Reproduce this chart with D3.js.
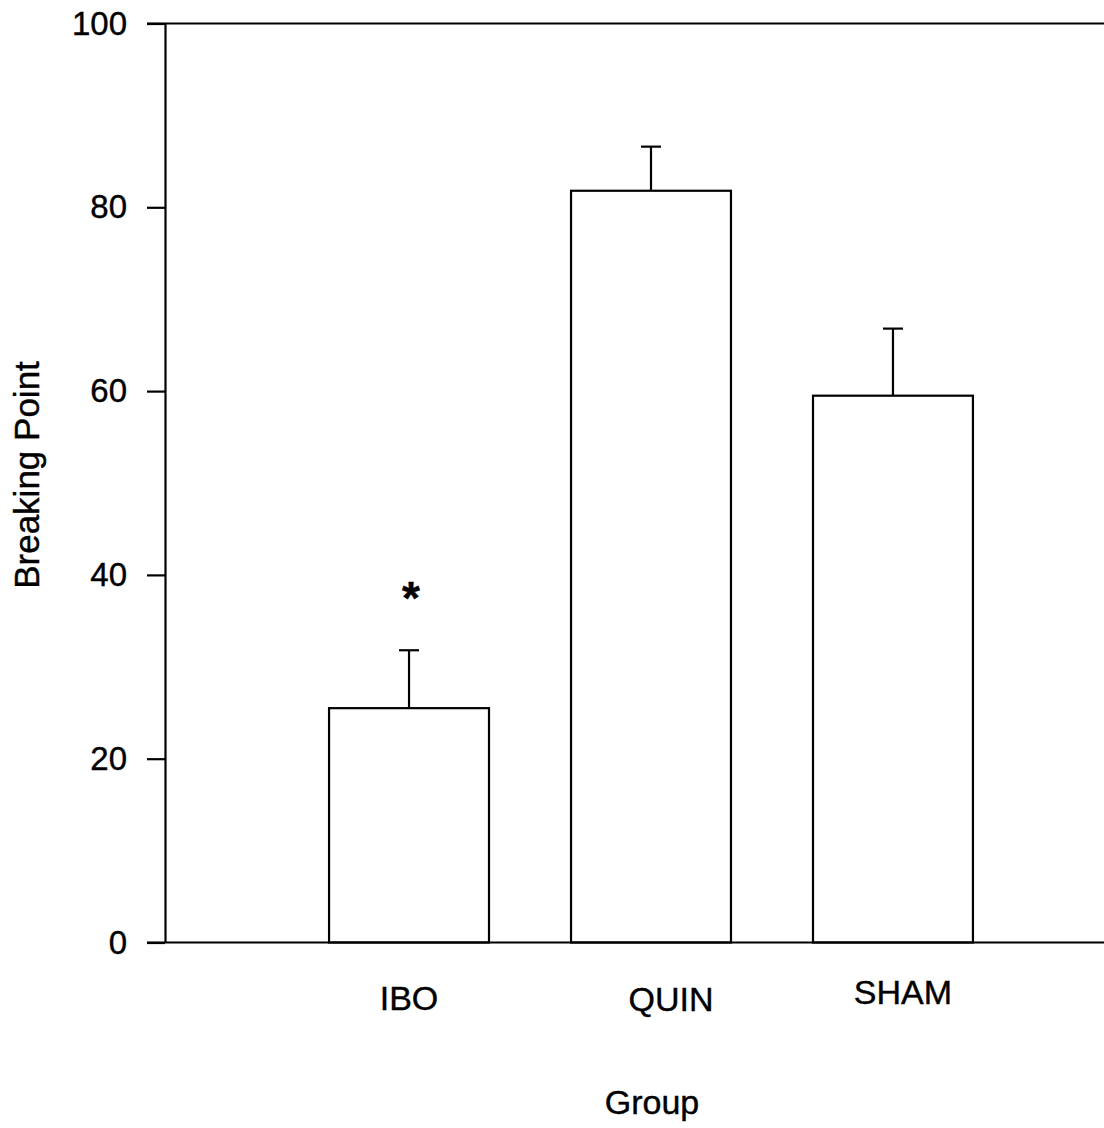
<!DOCTYPE html>
<html>
<head>
<meta charset="utf-8">
<script src="https://cdn.jsdelivr.net/npm/d3@7"></script>
<style>
  html, body { margin: 0; padding: 0; background: #fff; }
  svg { display: block; }
  text { font-family: "Liberation Sans", Arial, sans-serif; fill: #000; stroke: #000; stroke-width: 0.4px; }
</style>
</head>
<body>
<script>
// Breaking point by lesion group (mean + SEM)
const groups = ["IBO", "QUIN", "SHAM"];
const means = [25.5, 81.8, 59.5];
const errors = [6.3, 4.8, 7.3];
const significant = [true, false, false];
const yTicks = [0, 20, 40, 60, 80, 100];

const W = 1104, H = 1128;
const plotLeft = 165, plotTop = 23.5, plotBottom = 942.5;
const lw = 2.2;

const svg = d3.select("body").append("svg")
  .attr("width", W).attr("height", H);

const y = d3.scaleLinear().domain([0, 100]).range([plotBottom, plotTop]);
const x = d3.scaleBand().domain(groups)
  .range([plotLeft, 1137]).paddingInner(0.339).paddingOuter(0.678);

// Plot frame: top border runs past the right edge
svg.append("line").attr("x1", 147).attr("x2", W)
  .attr("y1", plotTop).attr("y2", plotTop)
  .attr("stroke", "#000").attr("stroke-width", lw);

// Bars
const data = groups.map((g, i) => ({ g, m: means[i], e: errors[i], s: significant[i] }));

svg.append("g").selectAll("rect").data(data).join("rect")
  .attr("x", d => x(d.g))
  .attr("y", d => y(d.m))
  .attr("width", x.bandwidth())
  .attr("height", d => y(0) - y(d.m))
  .attr("fill", "#fff").attr("stroke", "#000").attr("stroke-width", lw);

// Error bars (upper only)
const eb = svg.append("g").attr("stroke", "#000").attr("stroke-width", lw);
eb.selectAll("line.v").data(data).join("line").attr("class", "v")
  .attr("x1", d => x(d.g) + x.bandwidth() / 2)
  .attr("x2", d => x(d.g) + x.bandwidth() / 2)
  .attr("y1", d => y(d.m)).attr("y2", d => y(d.m + d.e));
eb.selectAll("line.c").data(data).join("line").attr("class", "c")
  .attr("x1", d => x(d.g) + x.bandwidth() / 2 - 10)
  .attr("x2", d => x(d.g) + x.bandwidth() / 2 + 10)
  .attr("y1", d => y(d.m + d.e)).attr("y2", d => y(d.m + d.e));

// Significance marker
svg.append("g").selectAll("text").data(data.filter(d => d.s)).join("text")
  .attr("x", d => x(d.g) + x.bandwidth() / 2 + 2)
  .attr("y", d => y(d.m + d.e) - 36)
  .attr("text-anchor", "middle")
  .attr("font-size", 46)
  .attr("font-weight", "bold")
  .text("*");

// Y axis
const yAxis = svg.append("g")
  .attr("transform", `translate(${plotLeft},0)`)
  .call(d3.axisLeft(y).tickValues(yTicks).tickSize(18).tickSizeOuter(0).tickPadding(20));
yAxis.select(".domain").attr("stroke-width", lw);
yAxis.selectAll(".tick line").attr("stroke-width", lw);
yAxis.selectAll(".tick text").attr("font-size", 33).attr("fill", "#000")
  .style("font-family", "'Liberation Sans', Arial, sans-serif");

// Baseline
svg.append("line").attr("x1", 147).attr("x2", W)
  .attr("y1", plotBottom).attr("y2", plotBottom)
  .attr("stroke", "#000").attr("stroke-width", lw);

// Category labels
const labelDx = { IBO: 0, QUIN: 20, SHAM: 10 };
const labelY = { IBO: 1010, QUIN: 1011, SHAM: 1004 };
svg.append("g").selectAll("text").data(groups).join("text")
  .attr("x", g => x(g) + x.bandwidth() / 2 + labelDx[g])
  .attr("y", g => labelY[g])
  .attr("text-anchor", "middle")
  .attr("font-size", 34)
  .text(g => g);

// Axis titles
svg.append("text")
  .attr("x", 652).attr("y", 1114)
  .attr("text-anchor", "middle")
  .attr("font-size", 34)
  .text("Group");

svg.append("text")
  .attr("transform", "translate(39,475) rotate(-90)")
  .attr("text-anchor", "middle")
  .attr("font-size", 35)
  .text("Breaking Point");
</script>
</body>
</html>
